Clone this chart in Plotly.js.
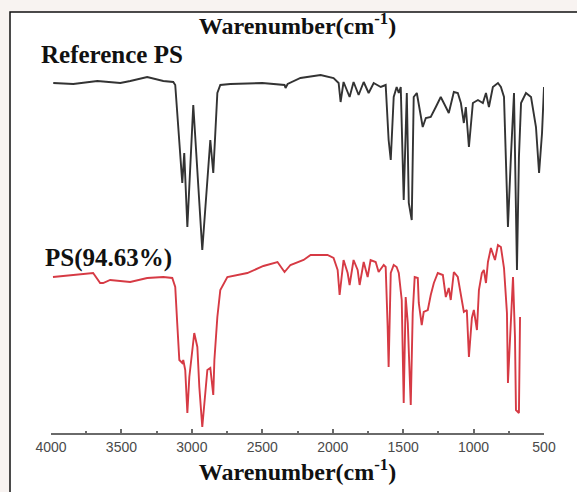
<!DOCTYPE html>
<html>
<head>
<meta charset="utf-8">
<script src="https://cdn.plot.ly/plotly-3.0.1.min.js"></script>
<style>html,body{margin:0;padding:0;background:#fff;}#chart{width:577px;height:492px;}</style>
</head>
<body>
<div id="chart"></div>
<script>
// Wavenumbers (cm^-1) and offset transmittance (arbitrary units)
const refWavenumber = [3984,3842,3671,3508,3437,3317,3203,3132,3118,3096,3068,3054,3032,2990,2926,2869,2848,2819,2798,2727,2500,2342,2335,2320,2229,2086,1994,1958,1944,1923,1880,1852,1816,1780,1745,1709,1659,1624,1603,1588,1567,1546,1531,1517,1496,1474,1460,1439,1425,1403,1382,1361,1339,1304,1268,1233,1197,1176,1140,1112,1090,1069,1055,1033,1005,969,934,912,891,863,827,806,784,756,735,713,692,678,663,628,592,557,535,514,500];
const refTransmittance = [350,349,352,350,352,356,352,351,348,303,250,280,206,328,183,293,260,340,348,349,350,348,345,349,355,358,355,350,331,351,336,351,338,351,340,350,346,348,293,273,336,346,340,346,233,340,230,213,336,340,323,306,315,316,326,336,326,320,341,340,330,310,326,286,330,333,330,340,326,346,350,346,336,206,276,340,163,276,330,340,336,306,260,300,346];

const sampleWavenumber = [3986,3794,3701,3651,3630,3580,3438,3317,3203,3139,3118,3104,3089,3068,3061,3047,3032,3018,2997,2983,2961,2947,2926,2904,2890,2869,2848,2840,2819,2798,2748,2606,2492,2392,2342,2300,2207,2157,2037,1994,1965,1951,1923,1894,1880,1852,1823,1809,1780,1752,1731,1695,1674,1638,1624,1610,1603,1588,1567,1546,1531,1510,1496,1482,1467,1446,1432,1418,1396,1389,1368,1354,1325,1304,1282,1254,1218,1197,1176,1162,1140,1112,1090,1069,1048,1033,1012,998,976,962,941,927,912,898,877,848,827,806,784,763,756,735,720,706,699,678,670];
const sampleTransmittance = [156,159,160,150,150,153,151,155,156,155,146,110,73,70,73,63,20,56,80,100,86,46,6,43,63,65,38,73,116,143,156,160,167,171,161,168,173,178,178,175,163,138,173,160,148,173,163,148,171,156,173,171,161,168,166,106,66,160,168,166,160,133,30,136,110,28,120,156,155,130,108,121,123,138,150,160,158,136,145,133,161,156,136,121,123,76,115,123,103,143,160,163,150,171,185,173,188,186,165,120,50,115,156,96,23,20,116];

const tickValues = [4000,3500,3000,2500,2000,1500,1000,500];
const tickLabels = ["4000","3500","3000","2500","2000","1500","1000","500"];
const seriesNames = ["Reference PS","PS(94.63%)"];
const axisTitle = "Warenumber(cm<sup>-1</sup>)";

const serif = "Liberation Serif, Times New Roman, serif";

const traces = [
  {x: refWavenumber, y: refTransmittance, type: "scatter", mode: "lines", name: seriesNames[0],
   line: {color: "#333333", width: 1.9}},
  {x: sampleWavenumber, y: sampleTransmittance, type: "scatter", mode: "lines", name: seriesNames[1],
   line: {color: "#d63a44", width: 1.9}}
];

const layout = {
  width: 577, height: 492,
  margin: {l: 51, r: 33, t: 32, b: 59},
  paper_bgcolor: "#f8f3f1",
  plot_bgcolor: "rgba(0,0,0,0)",
  showlegend: false,
  title: {text: axisTitle, x: 0.5, xref: "paper", y: 1 - 26/492, yref: "container", yanchor: "middle",
          font: {family: serif, size: 24, color: "#111", weight: "bold"}},
  xaxis: {
    range: [4000, 500], showgrid: false, zeroline: false,
    showline: true, linecolor: "#6a6a6a", linewidth: 2,
    tickmode: "array", tickvals: tickValues, ticktext: tickLabels,
    ticks: "inside", ticklen: 4, tickwidth: 2, tickcolor: "#6a6a6a",
    minor: {dtick: 250, ticks: "inside", ticklen: 2, tickwidth: 2, tickcolor: "#6a6a6a"},
    tickfont: {family: "Liberation Sans, Arial, sans-serif", size: 14, color: "#4a4a4a"},
    title: {text: axisTitle, standoff: 5, font: {family: serif, size: 24, color: "#111", weight: "bold"}}
  },
  yaxis: {range: [0, 401], visible: false, showgrid: false, zeroline: false},
  shapes: [
    {type: "rect", xref: "paper", yref: "paper", layer: "below",
     x0: (10-51)/493, x1: 1.2, y0: -0.3, y1: (433-12)/401,
     fillcolor: "#ffffff", line: {color: "#111", width: 1.5}}
  ],
  annotations: [
    {text: seriesNames[0], xref: "paper", yref: "paper", x: (39-51)/493, y: (433-54)/401,
     xanchor: "left", yanchor: "middle", showarrow: false,
     font: {family: serif, size: 25, color: "#111", weight: "bold"}},
    {text: seriesNames[1], xref: "paper", yref: "paper", x: (43-51)/493, y: (433-258)/401,
     xanchor: "left", yanchor: "middle", showarrow: false,
     font: {family: serif, size: 25, color: "#111", weight: "bold"}}
  ]
};

Plotly.newPlot("chart", traces, layout, {displayModeBar: false, staticPlot: true});
</script>
</body>
</html>
